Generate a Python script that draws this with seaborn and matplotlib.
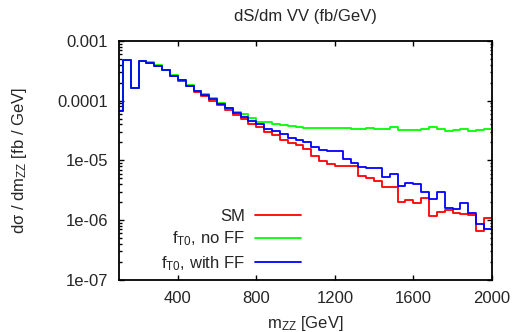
import numpy as np
import pandas as pd
import matplotlib
matplotlib.use("Agg")
import matplotlib.pyplot as plt
import seaborn as sns
from matplotlib.ticker import FixedLocator, LogLocator, NullFormatter

# lower bin edges of m_ZZ [GeV], 40 GeV bins up to 2000
bin_lo = list(range(80, 2000, 40))
x_end = 2000

sm = [6.6e-5, 4.8e-4, 1.6e-4, 4.6e-4, 4.3e-4, 3.8e-4, 3.2e-4, 2.55e-4,
      2.12e-4, 1.74e-4, 1.4e-4, 1.19e-4, 1.0e-4, 8.4e-5, 7.0e-5, 5.8e-5,
      4.96e-5, 4.1e-5, 3.6e-5, 3.03e-5, 2.67e-5, 2.2e-5, 1.94e-5, 1.82e-5,
      1.56e-5, 1.17e-5, 9.7e-6, 8.6e-6, 8.1e-6, 8.1e-6, 8.1e-6, 5.5e-6,
      5.0e-6, 4.6e-6, 3.56e-6, 3.56e-6, 2.04e-6, 2.18e-6, 1.97e-6, 2.38e-6,
      1.18e-6, 1.37e-6, 1.48e-6, 1.31e-6, 1.27e-6, 1.22e-6, 6.7e-7, 1.1e-6]

no_ff = [6.6e-5, 4.8e-4, 1.6e-4, 4.6e-4, 4.4e-4, 3.9e-4, 3.25e-4, 2.65e-4,
         2.22e-4, 1.84e-4, 1.47e-4, 1.28e-4, 1.1e-4, 9.1e-5, 7.6e-5, 6.5e-5,
         5.9e-5, 5.2e-5, 4.46e-5, 4.36e-5, 4.1e-5, 3.93e-5, 3.78e-5, 3.56e-5,
         3.43e-5, 3.43e-5, 3.45e-5, 3.45e-5, 3.45e-5, 3.54e-5, 3.37e-5, 3.33e-5,
         3.45e-5, 3.33e-5, 3.37e-5, 3.64e-5, 3.2e-5, 3.2e-5, 3.2e-5, 3.33e-5,
         3.64e-5, 3.33e-5, 3.12e-5, 3.28e-5, 3.33e-5, 3.12e-5, 3.22e-5, 3.37e-5]

with_ff = [6.6e-5, 4.8e-4, 1.6e-4, 4.6e-4, 4.3e-4, 3.8e-4, 3.2e-4, 2.6e-4,
           2.17e-4, 1.77e-4, 1.46e-4, 1.25e-4, 1.06e-4, 8.8e-5, 7.4e-5, 6.2e-5,
           5.4e-5, 4.5e-5, 4.0e-5, 3.3e-5, 3.15e-5, 2.75e-5, 2.36e-5, 2.16e-5,
           2.0e-5, 1.65e-5, 1.48e-5, 1.44e-5, 1.43e-5, 1.07e-5, 9.2e-6, 7.8e-6,
           7.4e-6, 7.4e-6, 5.3e-6, 5.8e-6, 3.75e-6, 4.2e-6, 4.05e-6, 2.97e-6,
           2.27e-6, 2.97e-6, 1.6e-6, 1.54e-6, 1.94e-6, 1.32e-6, 8.6e-7, 7.1e-7]

series_names = ["SM", "no FF", "with FF"]
series_labels = ["SM", "f$_{T0}$, no FF", "f$_{T0}$, with FF"]
colors = ["#ff0000", "#00ff00", "#0000ff"]

y_ticks = [1e-7, 1e-6, 1e-5, 1e-4, 1e-3]
y_tick_labels = ["1e-07", "1e-06", "1e-05", "0.0001", "0.001"]
x_ticks = [400, 800, 1200, 1600, 2000]

# long table, last value repeated at the closing edge for the step drawing
rows = []
for name, vals in zip(series_names, [sm, no_ff, with_ff]):
    xs = bin_lo + [x_end]
    ys = vals + [vals[-1]]
    for x, y in zip(xs, ys):
        rows.append({"m": x, "v": y, "series": name})
df = pd.DataFrame(rows)

sns.set_style("ticks")
plt.rcParams["font.family"] = ["Liberation Sans", "DejaVu Sans"]
plt.rcParams["mathtext.default"] = "regular"
plt.rcParams["font.size"] = 12

fig = plt.figure(figsize=(5.15, 3.32), dpi=100)
ax = fig.add_axes([0.231, 0.157, 0.724, 0.72])

sns.lineplot(data=df, x="m", y="v", hue="series", hue_order=series_names,
             palette=colors, drawstyle="steps-post", estimator=None,
             sort=False, legend=False, linewidth=1.3, ax=ax)

ax.set_yscale("log")
ax.set_xlim(100, 2000)
ax.set_ylim(1e-7, 1e-3)
ax.yaxis.set_major_locator(FixedLocator(y_ticks))
ax.set_yticklabels(y_tick_labels)
ax.yaxis.set_minor_locator(LogLocator(base=10, subs=np.arange(2, 10)))
ax.yaxis.set_minor_formatter(NullFormatter())
ax.set_xticks(x_ticks)
ax.set_xticklabels([str(t) for t in x_ticks])

ax.tick_params(which="both", direction="in", top=True, right=True,
               labelsize=12, color="black", width=1.0)
ax.tick_params(which="major", length=3.6, pad=8)
ax.tick_params(which="minor", length=1.8)
for sp in ax.spines.values():
    sp.set_linewidth(1.3)
    sp.set_color("black")

ax.set_xlabel("m$_{ZZ}$ [GeV]", fontsize=12)
ax.set_ylabel("dσ / dm$_{ZZ}$ [fb / GeV]", fontsize=12)
ax.xaxis.set_label_coords(0.5, -0.142)
ax.yaxis.set_label_coords(-0.241, 0.5)
ax.set_title("dS/dm VV (fb/GeV)", fontsize=12, pad=14)

leg = ax.legend(handles=ax.lines, labels=series_labels, loc="lower right",
                bbox_to_anchor=(0.488, 0.03), frameon=False, markerfirst=False,
                handlelength=2.75, labelspacing=0.35, handletextpad=0.6,
                fontsize=12, borderaxespad=0, borderpad=0)

fig.savefig("out.png", dpi=100)
